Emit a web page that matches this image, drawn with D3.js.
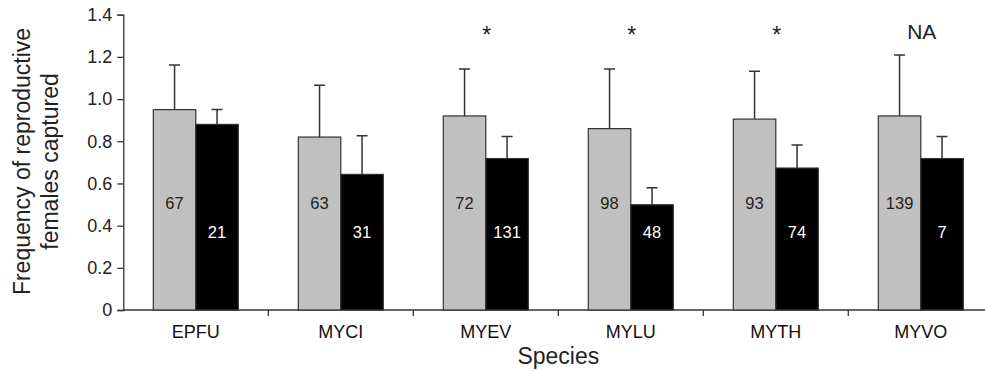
<script src="https://d3js.org/d3.v7.min.js"></script>
<style>
    body { background: #fff; margin: 0; font-family: "Liberation Sans", Arial, sans-serif; }
    svg { display: block; }
</style>

<svg width="985" height="371"></svg>

<script>
    const species = ["EPFU", "MYCI", "MYEV", "MYLU", "MYTH", "MYVO"];
    const groups = ["gray", "black"];
    // mean frequency and upper error bar end, per species
    const grayMeans = [0.95, 0.82, 0.92, 0.86, 0.905, 0.92];
    const grayTops = [1.162, 1.065, 1.143, 1.143, 1.132, 1.209];
    const blackMeans = [0.88, 0.643, 0.718, 0.499, 0.673, 0.718];
    const blackTops = [0.951, 0.826, 0.822, 0.58, 0.782, 0.822];
    const grayN = [67, 63, 72, 98, 93, 139];
    const blackN = [21, 31, 131, 48, 74, 7];
    const marks = ["", "", "*", "*", "*", "NA"];
    const yTicks = [0, 0.2, 0.4, 0.6, 0.8, 1.0, 1.2, 1.4];

    const rows = species.map((s, i) => ({
        species: s, mark: marks[i],
        bars: [
            { key: "gray", mean: grayMeans[i], hi: grayTops[i], n: grayN[i] },
            { key: "black", mean: blackMeans[i], hi: blackTops[i], n: blackN[i] }
        ]
    }));

    const svg = d3.select("svg");
    const mLeft = 123.3, mBottom = 310, mTop = 14.7;

    const x = d3.scaleBand().domain(species).range([mLeft, mLeft + 145 * 6]);
    const x1 = d3.scaleBand().domain(groups).range([30, 115]);
    const y = d3.scaleLinear().domain([0, 1.4]).range([mBottom, mTop]);

    const ink = "#333";

    // y axis
    const yAxis = svg.append("g").attr("transform", `translate(${mLeft},0)`)
        .call(d3.axisLeft(y).tickValues(yTicks).tickSizeOuter(0).tickSize(6).tickPadding(5)
            .tickFormat(d => d === 0 ? "0" : d3.format(".1f")(d)));
    yAxis.selectAll("path, line").attr("stroke", ink).attr("stroke-width", 1.3);
    yAxis.selectAll("text").attr("font-size", 18).attr("fill", "#222")
        .attr("font-family", "Liberation Sans, Arial");

    // x axis: line plus ticks at band boundaries
    svg.append("line").attr("x1", mLeft).attr("x2", 985).attr("y1", mBottom).attr("y2", mBottom)
        .attr("stroke", ink).attr("stroke-width", 1.3);
    svg.selectAll(".xtick").data(species.slice(1)).enter().append("line")
        .attr("x1", d => x(d)).attr("x2", d => x(d))
        .attr("y1", mBottom).attr("y2", mBottom + 6)
        .attr("stroke", ink).attr("stroke-width", 1.3);
    svg.selectAll(".xlab").data(species).enter().append("text")
        .attr("x", d => x(d) + x.bandwidth() / 2).attr("y", mBottom + 28)
        .attr("text-anchor", "middle").attr("font-size", 18).attr("fill", "#111")
        .text(d => d);

    const g = svg.selectAll(".grp").data(rows).enter().append("g")
        .attr("transform", d => `translate(${x(d.species)},0)`);

    // bars
    g.selectAll("rect").data(d => d.bars).enter().append("rect")
        .attr("x", d => x1(d.key)).attr("width", x1.bandwidth())
        .attr("y", d => y(d.mean)).attr("height", d => y(0) - y(d.mean))
        .attr("fill", d => d.key === "gray" ? "#c0c0c0" : "#000")
        .attr("stroke", ink).attr("stroke-width", 1.2);

    // error bars
    g.selectAll(".err").data(d => d.bars).enter().append("path")
        .attr("d", d => {
            const cx = x1(d.key) + x1.bandwidth() / 2;
            return `M${cx},${y(d.mean)}V${y(d.hi)}M${cx - 5.5},${y(d.hi)}H${cx + 5.5}`;
        })
        .attr("stroke", ink).attr("stroke-width", 1.5).attr("fill", "none");

    // sample sizes
    g.selectAll(".n").data(d => d.bars).enter().append("text")
        .attr("x", d => x1(d.key) + x1.bandwidth() / 2)
        .attr("y", d => d.key === "gray" ? y(0.506) + 6 : y(0.371) + 6)
        .attr("text-anchor", "middle").attr("font-size", 16.5)
        .attr("fill", d => d.key === "gray" ? "#222" : "#fff")
        .text(d => d.n);

    // significance marks
    g.append("text")
        .attr("x", x.bandwidth() / 2 + 1).attr("y", d => d.mark === "NA" ? 38.5 : 43)
        .attr("text-anchor", "middle")
        .attr("font-size", d => d.mark === "NA" ? 21 : 23).attr("fill", "#222")
        .text(d => d.mark);

    // axis titles
    const yt = svg.append("text").attr("transform", "translate(0,161.5) rotate(-90)")
        .attr("text-anchor", "middle").attr("font-size", 23).attr("fill", "#222");
    yt.append("tspan").attr("x", 0).attr("y", 30).text("Frequency of reproductive");
    yt.append("tspan").attr("x", 0).attr("y", 58).text("females captured");

    svg.append("text").attr("x", mLeft + 145 * 3).attr("y", 364)
        .attr("text-anchor", "middle").attr("font-size", 23).attr("fill", "#222")
        .text("Species");
</script>
